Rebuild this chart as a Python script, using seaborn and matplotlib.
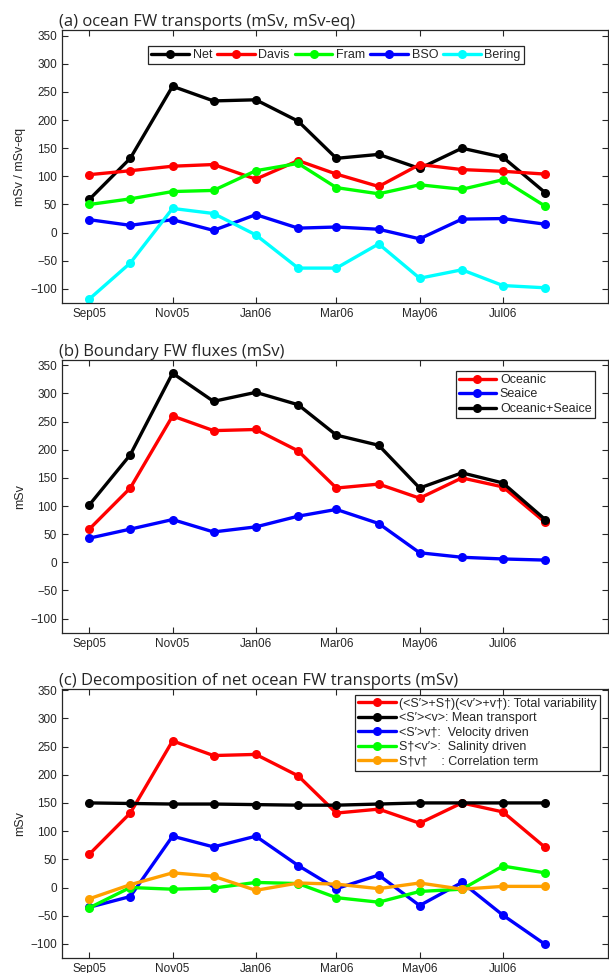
import matplotlib
matplotlib.use("Agg")
import matplotlib.pyplot as plt
import matplotlib.dates as mdates
import numpy as np
import pandas as pd
import seaborn as sns

# monthly values, Sep05 .. Aug06
months = pd.date_range("2005-09-01", periods=12, freq="MS")

# (a) ocean FW transports
net = [59, 132, 260, 234, 236, 198, 132, 139, 114, 150, 134, 71]
davis = [103, 110, 118, 121, 95, 128, 104, 82, 121, 112, 109, 104]
fram = [50, 60, 73, 75, 110, 123, 80, 69, 85, 77, 94, 47]
bso = [23, 13, 23, 4, 32, 8, 10, 6, -11, 24, 25, 15]
bering = [-118, -54, 43, 34, -4, -63, -63, -20, -81, -66, -94, -98]

# (b) boundary FW fluxes
oceanic = [59, 132, 260, 234, 236, 198, 132, 139, 114, 150, 134, 71]
seaice = [43, 59, 76, 54, 63, 82, 94, 69, 17, 9, 6, 4]
oceanic_seaice = [102, 191, 336, 286, 302, 280, 226, 208, 132, 159, 141, 76]

# (c) decomposition
total_var = [59, 132, 260, 234, 236, 198, 132, 139, 114, 150, 134, 71]
mean_tr = [150, 149, 148, 148, 147, 146, 146, 148, 150, 150, 150, 150]
vel_driven = [-35, -16, 91, 72, 91, 39, -2, 22, -32, 9, -49, -101]
sal_driven = [-36, 0, -3, -1, 9, 7, -18, -26, -7, -3, 38, 26]
corr_term = [-20, 5, 26, 20, -5, 8, 6, -2, 8, -3, 2, 2]

tick_dates = pd.to_datetime(["2005-09-01", "2005-11-01", "2006-01-01",
                             "2006-03-01", "2006-05-01", "2006-07-01"])

sns.set_style("ticks")
plt.rcParams["font.family"] = ["Liberation Sans", "DejaVu Sans"]

GRAY = "#262626"


def make_df(series):
    rows = []
    for name, vals in series:
        for d, v in zip(months, vals):
            rows.append({"date": d, "value": v, "series": name})
    return pd.DataFrame(rows)


def draw_panel(ax, series, colors, title, ylabel, ytop):
    df = make_df(series)
    names = [s[0] for s in series]
    sns.lineplot(data=df, x="date", y="value", hue="series", hue_order=names,
                 palette=colors, marker="o", markersize=6.5, markeredgewidth=0,
                 linewidth=2.4, ax=ax, legend=False)
    ax.set_xlim(pd.Timestamp("2005-08-12"), pd.Timestamp("2006-09-16"))
    ax.set_ylim(-125, ytop)
    ax.set_yticks(np.arange(-100, 351, 50))
    ax.set_xticks(tick_dates)
    ax.xaxis.set_major_formatter(mdates.DateFormatter("%b%y"))
    ax.set_xlabel("")
    ax.set_ylabel(ylabel, fontsize=9, color=GRAY, labelpad=3)
    ax.tick_params(direction="in", top=True, right=True, length=4,
                   labelsize=8.5, colors=GRAY, width=0.8)
    for sp in ax.spines.values():
        sp.set_visible(True)
        sp.set_color(GRAY)
        sp.set_linewidth(0.9)
    ax.set_title(title, loc="left", fontsize=12, family="Open Sans",
                 pad=3, x=-0.005)
    return ax.lines[:len(names)], names


def add_legend(ax, h, n, **kw):
    leg = ax.legend(h, n, fontsize=9, handlelength=3.0, handletextpad=0.3,
                    labelspacing=0.2, borderpad=0.25, fancybox=False,
                    edgecolor=GRAY, framealpha=1, **kw)
    leg.get_frame().set_linewidth(0.9)


fig = plt.figure(figsize=(6.09, 9.73), dpi=100)
L, W = 62 / 609, 546 / 609
ax1 = fig.add_axes([L, 1 - 303 / 973, W, 273 / 973])
ax2 = fig.add_axes([L, 1 - 632.7 / 973, W, 273 / 973])
ax3 = fig.add_axes([L, 1 - 958 / 973, W, 269 / 973])

h, n = draw_panel(ax1, [("Net", net), ("Davis", davis), ("Fram", fram),
                        ("BSO", bso), ("Bering", bering)],
                  ["black", "red", "#00ff00", "blue", "cyan"],
                  "(a) ocean FW transports (mSv, mSv-eq)", "mSv / mSv-eq", 360)
add_legend(ax1, h, n, ncol=5, loc="upper center",
           bbox_to_anchor=(0.502, 0.965), columnspacing=0.4)

h, n = draw_panel(ax2, [("Oceanic", oceanic), ("Seaice", seaice),
                        ("Oceanic+Seaice", oceanic_seaice)],
                  ["red", "blue", "black"],
                  "(b) Boundary FW fluxes (mSv)", "mSv", 360)
add_legend(ax2, h, n, loc="upper right", bbox_to_anchor=(0.987, 0.982))

h, n = draw_panel(ax3, [
    ("(<S′>+S†)(<v′>+v†): Total variability", total_var),
    ("<S′><v>: Mean transport", mean_tr),
    ("<S′>v†:  Velocity driven", vel_driven),
    ("S†<v′>:  Salinity driven", sal_driven),
    ("S†v†    : Correlation term", corr_term)],
    ["red", "black", "blue", "#00ff00", "#ffa000"],
    "(c) Decomposition of net ocean FW transports (mSv)", "mSv", 352)
add_legend(ax3, h, n, loc="upper right", bbox_to_anchor=(0.997, 1.002))

fig.savefig("out.png", dpi=100)
